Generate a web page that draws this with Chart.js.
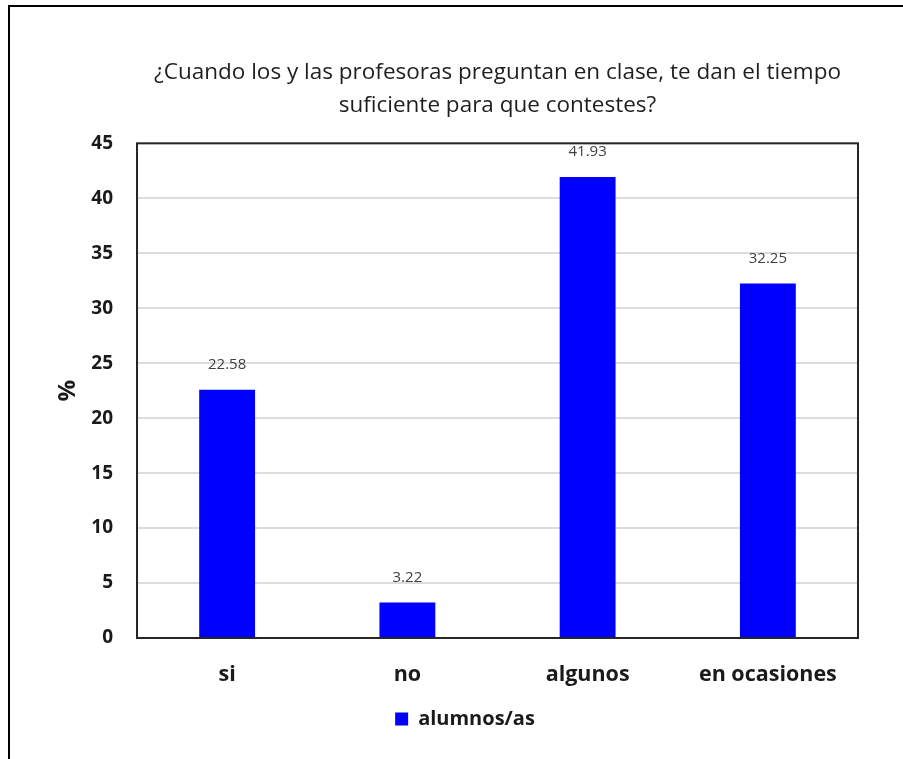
<!DOCTYPE html>
<html>
<head>
<meta charset="utf-8">
<script src="https://cdn.jsdelivr.net/npm/chart.js@4"></script>
<style>
  body { margin: 0; background: #fff; overflow: hidden; }
  #marco { position: relative; width: 903px; height: 759px; }
  #borde { position: absolute; left: 8px; top: 5px; width: 1200px; height: 1200px;
           border-left: 2px solid #000; border-top: 2px solid #000; }
  #grafico { position: absolute; left: 0; top: 0; }
</style>
</head>
<body>
<div id="marco">
  <div id="borde"></div>
  <canvas id="grafico" width="903" height="759"></canvas>
</div>
<script>
const titulo = ["¿Cuando los y las profesoras preguntan en clase, te dan el tiempo", "suficiente para que contestes?"];
const categorias = ["si", "no", "algunos", "en ocasiones"];
const porcentajes = [22.58, 3.22, 41.93, 32.25];
const marcasY = [0, 5, 10, 15, 20, 25, 30, 35, 40, 45];
const serie = "alumnos/as";

const fuente = "'Open Sans', Lato, sans-serif";

// etiquetas de valor encima de cada barra
const etiquetasBarras = {
  id: "etiquetasBarras",
  afterDatasetsDraw(chart) {
    const ctx = chart.ctx;
    const meta = chart.getDatasetMeta(0);
    ctx.save();
    ctx.font = "15px " + fuente;
    ctx.fillStyle = "#404040";
    ctx.textAlign = "center";
    ctx.textBaseline = "middle";
    meta.data.forEach((bar, i) => {
      ctx.fillText(porcentajes[i].toFixed(2), bar.x, bar.y - 25);
    });
    ctx.restore();
  }
};

// borde completo del área de trazado
const bordeArea = {
  id: "bordeArea",
  afterDatasetsDraw(chart) {
    const { left, top, right, bottom } = chart.chartArea;
    const ctx = chart.ctx;
    ctx.save();
    ctx.strokeStyle = "#262626";
    ctx.lineWidth = 2;
    ctx.strokeRect(left, top, right - left, bottom - top);
    ctx.restore();
  }
};

new Chart(document.getElementById("grafico"), {
  type: "bar",
  data: {
    labels: categorias,
    datasets: [{
      label: serie,
      data: porcentajes,
      backgroundColor: "#0000ff",
      barPercentage: 0.31,
      categoryPercentage: 1
    }]
  },
  options: {
    responsive: false,
    animation: false,
    layout: { padding: { left: 72, right: 45, top: 10, bottom: 20 } },
    plugins: {
      title: {
        display: true,
        text: titulo,
        fullSize: false,
        color: "#1f1f1f",
        font: { family: fuente, size: 22.5, weight: "normal", lineHeight: 1.43 },
        padding: { top: 47, bottom: 22 }
      },
      legend: {
        position: "bottom",
        labels: {
          boxWidth: 13,
          boxHeight: 13,
          color: "#1a1a1a",
          padding: 10,
          font: { family: fuente, size: 20, weight: "bold" }
        }
      },
      tooltip: { enabled: false }
    },
    scales: {
      x: {
        grid: { display: false, drawTicks: false },
        border: { display: false },
        ticks: {
          color: "#1a1a1a",
          padding: 24,
          font: { family: fuente, size: 21.5, weight: "bold" }
        },
        afterFit(scale) { scale.height = 61; }
      },
      y: {
        min: 0,
        max: 45,
        afterBuildTicks(scale) { scale.ticks = marcasY.map(v => ({ value: v })); },
        grid: { color: "#dcdcdc", lineWidth: 2, drawTicks: false },
        border: { display: false },
        ticks: {
          color: "#1a1a1a",
          padding: 24,
          font: { family: fuente, size: 19, weight: "bold" }
        },
        title: {
          display: true,
          text: "%",
          color: "#1a1a1a",
          font: { family: fuente, size: 24, weight: "bold" },
          padding: { top: -18, bottom: 0 }
        },
        afterFit(scale) { scale.width = 65; }
      }
    }
  },
  plugins: [etiquetasBarras, bordeArea]
});
</script>
</body>
</html>
